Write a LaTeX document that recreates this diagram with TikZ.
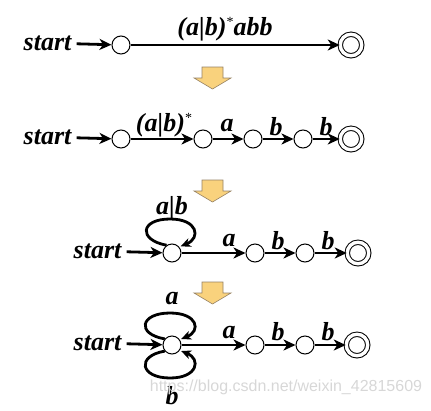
\documentclass[tikz,border=0pt]{standalone}
\usepackage{fontspec}
\setmainfont{Liberation Serif}
\setsansfont{Liberation Sans}
\usetikzlibrary{arrows.meta}
\definecolor{blkfill}{RGB}{249,210,125}
\definecolor{blkline}{RGB}{150,130,100}
\definecolor{wmark}{RGB}{215,215,215}
\begin{document}
\begin{tikzpicture}[x=1pt,y=-1pt,
  st/.style={circle,draw,line width=1pt,minimum size=18pt,inner sep=0pt,fill=white},
  fin/.style={circle,draw,double,double distance=3.4pt,line width=1pt,minimum size=21.5pt,inner sep=0pt,fill=white},
  lbl/.style={font=\fontsize{26}{26}\selectfont\bfseries\itshape,inner sep=0pt},
  trans/.style={line width=2.8pt,-{Stealth[length=12pt,width=11pt,inset=3.5pt]}},
  loopedge/.style={line width=2.8pt,-{Stealth[length=10pt,width=9pt,inset=3pt]},shorten >=1.5pt},
  startedge/.style={trans,shorten <=5pt},
  downarr/.pic={\draw[fill=blkfill,draw=blkline,line width=0.6pt]
      (-10.5,0) -- (10.5,0) -- (10.5,11) -- (18.5,11) -- (0,22) -- (-18.5,11) -- (-10.5,11) -- cycle;}
]
\useasboundingbox (0,0) rectangle (431,410);

% ---------- row 1 ----------
\node[lbl] (s1) at (47.5,43) {start};
\node[st] (q10) at (121,45) {};
\node[fin] (f1) at (351,45) {};
\draw[startedge] (s1) -- (q10);
\draw[trans] (q10) -- (f1);
\node[lbl] (l1) at (225,29) {(a|b)\raisebox{9pt}{\normalfont\fontsize{14}{14}\selectfont *}abb};

\pic at (212.5,67) {downarr};

% ---------- row 2 ----------
\node[lbl] (s2) at (47.5,137) {start};
\node[st] (q20) at (121,139) {};
\node[st] (q21) at (203,139) {};
\node[st] (q22) at (253,139) {};
\node[st] (q23) at (303,139) {};
\node[fin] (f2) at (351,139) {};
\draw[startedge] (s2) -- (q20);
\draw[trans] (q20) -- (q21);
\draw[trans] (q21) -- (q22);
\draw[trans] (q22) -- (q23);
\draw[trans] (q23) -- (f2);
\node[lbl] (l21) at (164,125) {(a|b)\raisebox{9pt}{\normalfont\fontsize{14}{14}\selectfont *}};
\node[lbl] (l22) at (227,126) {a};
\node[lbl] (l23) at (276,127) {b};
\node[lbl] (l24) at (326,127) {b};

\pic at (212.5,180) {downarr};

% ---------- row 3 ----------
\node[lbl] (s3) at (97.5,251) {start};
\node[st] (q30) at (172,253) {};
\node[st] (q31) at (255,253) {};
\node[st] (q32) at (305,253) {};
\node[fin] (f3) at (358,253) {};
\draw[startedge] (s3) -- (q30);
\draw[trans] (q30) -- (q31);
\draw[trans] (q31) -- (q32);
\draw[trans] (q32) -- (f3);
\draw[loopedge] (q30.125) .. controls (138,240) and (140,219) .. (170,219)
   .. controls (198,219) and (201,238) .. (q30.40);
\node[lbl] (l31) at (172,208) {a|b};
\node[lbl] (l32) at (229,241) {a};
\node[lbl] (l33) at (278,241) {b};
\node[lbl] (l34) at (328,241) {b};

\pic at (212.5,282) {downarr};

% ---------- row 4 ----------
\node[lbl] (s4) at (97.5,343) {start};
\node[st] (q40) at (172,345) {};
\node[st] (q41) at (255,345) {};
\node[st] (q42) at (305,345) {};
\node[fin] (f4) at (357,345) {};
\draw[startedge] (s4) -- (q40);
\draw[trans] (q40) -- (q41);
\draw[trans] (q41) -- (q42);
\draw[trans] (q42) -- (f4);
\draw[loopedge] (q40.140) .. controls (136,334) and (140,313) .. (170,313)
   .. controls (198,313) and (201,331) .. (q40.35);
\draw[loopedge] (q40.220) .. controls (136,356) and (140,378) .. (170,378)
   .. controls (198,378) and (201,359) .. (q40.-35);
\node[lbl] (l41) at (172,299) {a};
\node[lbl] (l42) at (229,333) {a};
\node[lbl] (l43) at (278,332) {b};
\node[lbl] (l44) at (328,332) {b};
\node[lbl] (l45) at (172,396) {b};

% watermark
\node[font=\sffamily\fontsize{16}{16}\selectfont,text=wmark,inner sep=0pt] (wm) at (286,387) {https://blog.csdn.net/weixin\_42815609};
\end{tikzpicture}
\end{document}
